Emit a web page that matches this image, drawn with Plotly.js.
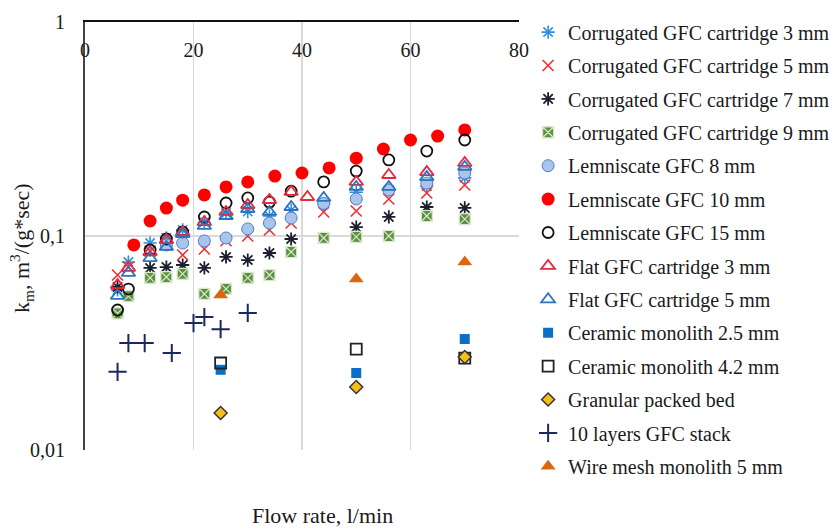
<!DOCTYPE html>
<html>
<head>
<meta charset="utf-8">
<script src="https://cdn.plot.ly/plotly-3.0.1.min.js"></script>
<style>html,body{margin:0;padding:0;background:#fff;}#chart{width:835px;height:532px;}</style>
</head>
<body>
<div id="chart"></div>
<script>
// Flow rate columns (l/min)
const xGFC = [6, 8, 12, 15, 18, 22, 26, 30, 34, 38, 44, 50, 56, 63, 70];

const corr3Y = [0.056, 0.0756, 0.0927, 0.0979, 0.1067, 0.116, 0.128, 0.130, 0.124, 0.132, 0.141, 0.160, 0.164, 0.171, 0.187];
const corr5Y = [0.0657, 0.0716, 0.085, 0.0908, 0.0815, 0.0869, 0.095, 0.100, 0.1067, 0.115, 0.1295, 0.1309, 0.1489, 0.1589, 0.1731];
const corr7X = [6, 12, 15, 18, 22, 26, 30, 34, 38, 50, 56, 63, 70];
const corr7Y = [0.0578, 0.0709, 0.0716, 0.0732, 0.0709, 0.0798, 0.0772, 0.0833, 0.0968, 0.110, 0.1228, 0.1366, 0.1352];
const corr9Y = [0.0435, 0.0524, 0.0637, 0.0643, 0.0665, 0.0536, 0.0566, 0.0637, 0.0657, 0.0842, 0.0979, 0.099, 0.100, 0.124, 0.120];
const lem8X = [15, 18, 22, 26, 30, 34, 38, 44, 50, 56, 63, 70];
const lem8Y = [0.0908, 0.0927, 0.0948, 0.0979, 0.1079, 0.115, 0.1214, 0.142, 0.1489, 0.1641, 0.1766, 0.197];
const lem10X = [9, 12, 15, 18, 22, 26, 30, 35, 40, 45, 50, 55, 60, 65, 70];
const lem10Y = [0.0908, 0.1175, 0.135, 0.147, 0.1555, 0.1695, 0.179, 0.1905, 0.197, 0.208, 0.231, 0.255, 0.281, 0.293, 0.313];
const lem15X = [6, 8, 12, 15, 18, 22, 26, 30, 34, 38, 44, 50, 56, 63, 70];
const lem15Y = [0.0451, 0.0565, 0.086, 0.0968, 0.1045, 0.1227, 0.1426, 0.1506, 0.144, 0.162, 0.179, 0.201, 0.2266, 0.2495, 0.281];
const flat3X = [6, 8, 12, 15, 18, 22, 26, 30, 34, 38, 41, 50, 56, 63, 70];
const flat3Y = [0.059, 0.071, 0.0842, 0.0958, 0.1044, 0.1162, 0.1295, 0.1396, 0.1473, 0.1606, 0.1521, 0.179, 0.1928, 0.1989, 0.2195];
const flat5Y = [0.0525, 0.0672, 0.0789, 0.0889, 0.1022, 0.1114, 0.124, 0.1337, 0.1295, 0.1366, 0.1506, 0.1695, 0.1695, 0.1885, 0.2104];
const monoX = [25, 50, 70];
const cer25Y = [0.0237, 0.0229, 0.033];
const cer42Y = [0.0255, 0.0296, 0.0269];
const granY = [0.0149, 0.0197, 0.0272];
const stackX = [6, 8, 11, 16, 20, 22, 25, 30];
const stackY = [0.0232, 0.0316, 0.0316, 0.0284, 0.0392, 0.0418, 0.0367, 0.0437];
const wireY = [0.053, 0.063, 0.0756];

const names = [
  "Corrugated GFC cartridge 3 mm", "Corrugated GFC cartridge 5 mm",
  "Corrugated GFC cartridge 7 mm", "Corrugated GFC cartridge 9 mm",
  "Lemniscate GFC 8 mm", "Lemniscate GFC 10 mm", "Lemniscate GFC 15 mm",
  "Flat GFC cartridge 3 mm", "Flat GFC cartridge 5 mm",
  "Ceramic monolith 2.5 mm", "Ceramic monolith 4.2 mm",
  "Granular packed bed", "10 layers GFC stack", "Wire mesh monolith 5 mm"
];
const yTickVals = [0.01, 0.1, 1];
const yTickText = ["0,01", "0,1", "1"];
const xTickVals = [0, 20, 40, 60, 80];

function tr(i, x, y, marker) {
  return {type: 'scatter', mode: 'markers', name: names[i], x: x, y: y,
          marker: marker, legendgroup: 'g' + i, cliponaxis: false};
}

const traces = [
  tr(0, xGFC, corr3Y, {symbol: 'asterisk-open', size: 11, color: '#2f8fd8', line: {color: '#2f8fd8', width: 1.6}}),
  tr(1, xGFC, corr5Y, {symbol: 'x-thin-open', size: 11, color: '#f03030', line: {color: '#f03030', width: 1.6}}),
  tr(2, corr7X, corr7Y, {symbol: 'asterisk-open', size: 11, color: '#1b1f2e', line: {color: '#1b1f2e', width: 1.8}}),
  tr(3, xGFC, corr9Y, {symbol: 'square-x', size: 11, color: '#5f8f43', line: {color: '#d5e8c8', width: 1.2}}),
  tr(4, lem8X, lem8Y, {symbol: 'circle', size: 12, color: '#a9c5ec', line: {color: '#4f7fc8', width: 1}}),
  tr(5, lem10X, lem10Y, {symbol: 'circle', size: 13, color: '#ff0000', line: {color: '#ff0000', width: 0}}),
  tr(6, lem15X, lem15Y, {symbol: 'circle-open', size: 11, color: '#111111', line: {color: '#111111', width: 1.8}}),
  tr(7, flat3X, flat3Y, {symbol: 'triangle-up-open', size: 12, color: '#e8283c', line: {color: '#e8283c', width: 1.8}}),
  tr(8, xGFC, flat5Y, {symbol: 'triangle-up-open', size: 12, color: '#2a75c0', line: {color: '#2a75c0', width: 1.8}}),
  tr(9, monoX, cer25Y, {symbol: 'square', size: 10, color: '#0a6fc6', line: {color: '#0a6fc6', width: 0}}),
  tr(10, monoX, cer42Y, {symbol: 'square-open', size: 11, color: '#222222', line: {color: '#222222', width: 1.8}}),
  tr(11, monoX, granY, {symbol: 'diamond', size: 10, color: '#f5bf1a', line: {color: '#333333', width: 1.5}}),
  tr(12, stackX, stackY, {symbol: 'cross-thin-open', size: 13, color: '#1a2a5e', line: {color: '#1a2a5e', width: 2}}),
  tr(13, monoX, wireY, {symbol: 'triangle-up', size: 13, color: '#e06410', line: {color: '#e06410', width: 0}})
];

const serif = 'Liberation Serif, Times New Roman, serif';
const layout = {
  width: 835, height: 532,
  margin: {l: 85, r: 316, t: 22, b: 82, autoexpand: false},
  paper_bgcolor: '#ffffff', plot_bgcolor: '#ffffff',
  font: {family: serif, size: 20, color: '#1a1a1a'},
  showlegend: true,
  legend: {x: 1.021, xanchor: 'left', y: 1.022, yanchor: 'top',
           font: {family: serif, size: 20, color: '#1a1a1a'},
           traceorder: 'grouped', tracegroupgap: 4.4, maxheight: 525,
           itemwidth: 30, bgcolor: 'rgba(0,0,0,0)'},
  xaxis: {range: [0, 80], side: 'top', tickvals: xTickVals,
          ticks: '', ticklabelposition: 'inside', ticklabeloverflow: 'allow',
          ticklabelstandoff: 22,
          showline: true, linecolor: '#111111', linewidth: 1.6,
          showgrid: true, gridcolor: '#d9d9d9', gridwidth: 1.3,
          zeroline: false, tickfont: {family: serif, size: 20, color: '#1a1a1a'}},
  yaxis: {type: 'log', range: [-2, 0], tickvals: yTickVals, ticktext: yTickText,
          ticks: '', ticklabelstandoff: 14,
          showline: true, linecolor: '#444444', linewidth: 2,
          showgrid: true, gridcolor: '#d9d9d9', gridwidth: 1.3,
          zeroline: false, tickfont: {family: serif, size: 20, color: '#1a1a1a'}},
  annotations: [
    {text: 'k<sub>m</sub>, m<sup>3</sup>/(g*sec)', xref: 'paper', yref: 'paper',
     x: -0.145, y: 0.472, xanchor: 'center', yanchor: 'middle', textangle: -90, showarrow: false,
     font: {family: serif, size: 22, color: '#1a1a1a'}},
    {text: 'Flow rate, l/min', xref: 'paper', yref: 'paper',
     x: 0.548, y: -0.154, xanchor: 'center', yanchor: 'middle', showarrow: false,
     font: {family: serif, size: 22, color: '#1a1a1a'}}
  ]
};

Plotly.newPlot('chart', traces, layout, {displayModeBar: false, staticPlot: true});
</script>
</body>
</html>
